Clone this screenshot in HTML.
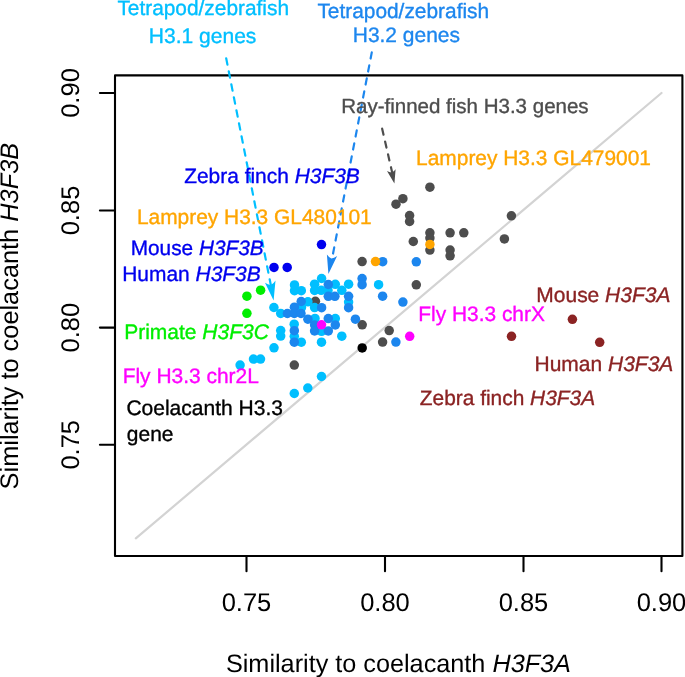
<!DOCTYPE html><html><head><meta charset="utf-8"><title>Similarity plot</title><style>html,body{margin:0;padding:0;background:#fff;overflow:hidden;}svg{display:block;will-change:transform;}text{font-family:"Liberation Sans",sans-serif;text-rendering:geometricPrecision;}</style></head><body>
<svg width="685" height="677" viewBox="0 0 685 677">
<rect width="685" height="677" fill="#fff"/>
<line x1="135.8" y1="538.4" x2="661.5" y2="93.0" stroke="#d3d3d3" stroke-width="2.2" stroke-linecap="round"/>
<circle cx="429.9" cy="187.2" r="4.75" fill="#4d4d4d"/>
<circle cx="402.9" cy="198.7" r="4.75" fill="#4d4d4d"/>
<circle cx="396.0" cy="204.2" r="4.75" fill="#4d4d4d"/>
<circle cx="409.6" cy="215.5" r="4.75" fill="#4d4d4d"/>
<circle cx="409.6" cy="221.5" r="4.75" fill="#4d4d4d"/>
<circle cx="429.9" cy="232.8" r="4.75" fill="#4d4d4d"/>
<circle cx="429.9" cy="238.1" r="4.75" fill="#4d4d4d"/>
<circle cx="429.9" cy="250.1" r="4.75" fill="#4d4d4d"/>
<circle cx="413.3" cy="241.5" r="4.75" fill="#4d4d4d"/>
<circle cx="450.1" cy="232.8" r="4.75" fill="#4d4d4d"/>
<circle cx="463.8" cy="232.8" r="4.75" fill="#4d4d4d"/>
<circle cx="450.1" cy="250.1" r="4.75" fill="#4d4d4d"/>
<circle cx="450.1" cy="255.8" r="4.75" fill="#4d4d4d"/>
<circle cx="416.3" cy="284.8" r="4.75" fill="#4d4d4d"/>
<circle cx="362.1" cy="261.6" r="4.75" fill="#4d4d4d"/>
<circle cx="362.2" cy="324.8" r="4.75" fill="#4d4d4d"/>
<circle cx="389.2" cy="330.6" r="4.75" fill="#4d4d4d"/>
<circle cx="382.6" cy="342.1" r="4.75" fill="#4d4d4d"/>
<circle cx="315.4" cy="301.3" r="4.75" fill="#4d4d4d"/>
<circle cx="294.3" cy="365.1" r="4.75" fill="#4d4d4d"/>
<circle cx="511.4" cy="215.8" r="4.75" fill="#4d4d4d"/>
<circle cx="504.4" cy="238.9" r="4.75" fill="#4d4d4d"/>
<circle cx="321.6" cy="278.5" r="4.75" fill="#00bfff"/>
<circle cx="294.5" cy="284.9" r="4.75" fill="#00bfff"/>
<circle cx="314.6" cy="284.2" r="4.75" fill="#00bfff"/>
<circle cx="335.3" cy="284.3" r="4.75" fill="#00bfff"/>
<circle cx="348.6" cy="284.2" r="4.75" fill="#00bfff"/>
<circle cx="378.6" cy="284.7" r="4.75" fill="#00bfff"/>
<circle cx="294.5" cy="290.7" r="4.75" fill="#00bfff"/>
<circle cx="301.3" cy="290.7" r="4.75" fill="#00bfff"/>
<circle cx="314.6" cy="290.4" r="4.75" fill="#00bfff"/>
<circle cx="321.2" cy="290.3" r="4.75" fill="#00bfff"/>
<circle cx="328.0" cy="290.4" r="4.75" fill="#00bfff"/>
<circle cx="341.8" cy="290.3" r="4.75" fill="#00bfff"/>
<circle cx="307.9" cy="301.8" r="4.75" fill="#00bfff"/>
<circle cx="348.6" cy="302.0" r="4.75" fill="#00bfff"/>
<circle cx="273.9" cy="307.5" r="4.75" fill="#00bfff"/>
<circle cx="301.5" cy="307.6" r="4.75" fill="#00bfff"/>
<circle cx="314.6" cy="307.6" r="4.75" fill="#00bfff"/>
<circle cx="280.7" cy="313.4" r="4.75" fill="#00bfff"/>
<circle cx="315.0" cy="318.4" r="4.75" fill="#00bfff"/>
<circle cx="335.3" cy="318.5" r="4.75" fill="#00bfff"/>
<circle cx="294.2" cy="324.2" r="4.75" fill="#00bfff"/>
<circle cx="280.7" cy="330.5" r="4.75" fill="#00bfff"/>
<circle cx="321.5" cy="331.3" r="4.75" fill="#00bfff"/>
<circle cx="280.7" cy="336.1" r="4.75" fill="#00bfff"/>
<circle cx="294.3" cy="336.3" r="4.75" fill="#00bfff"/>
<circle cx="341.8" cy="336.2" r="4.75" fill="#00bfff"/>
<circle cx="301.3" cy="342.2" r="4.75" fill="#00bfff"/>
<circle cx="321.5" cy="342.2" r="4.75" fill="#00bfff"/>
<circle cx="274.0" cy="347.8" r="4.75" fill="#00bfff"/>
<circle cx="253.5" cy="359.1" r="4.75" fill="#00bfff"/>
<circle cx="260.5" cy="359.1" r="4.75" fill="#00bfff"/>
<circle cx="240.1" cy="365.1" r="4.75" fill="#00bfff"/>
<circle cx="321.5" cy="376.5" r="4.75" fill="#00bfff"/>
<circle cx="307.8" cy="388.0" r="4.75" fill="#00bfff"/>
<circle cx="294.3" cy="393.5" r="4.75" fill="#00bfff"/>
<circle cx="382.7" cy="261.7" r="4.75" fill="#1c86ee"/>
<circle cx="416.3" cy="261.8" r="4.75" fill="#1c86ee"/>
<circle cx="362.1" cy="278.5" r="4.75" fill="#1c86ee"/>
<circle cx="362.1" cy="284.7" r="4.75" fill="#1c86ee"/>
<circle cx="328.3" cy="284.5" r="4.75" fill="#1c86ee"/>
<circle cx="328.3" cy="296.3" r="4.75" fill="#1c86ee"/>
<circle cx="334.9" cy="296.3" r="4.75" fill="#1c86ee"/>
<circle cx="348.6" cy="296.3" r="4.75" fill="#1c86ee"/>
<circle cx="382.6" cy="296.2" r="4.75" fill="#1c86ee"/>
<circle cx="301.2" cy="301.5" r="4.75" fill="#1c86ee"/>
<circle cx="402.9" cy="302.1" r="4.75" fill="#1c86ee"/>
<circle cx="294.4" cy="307.2" r="4.75" fill="#1c86ee"/>
<circle cx="321.6" cy="307.7" r="4.75" fill="#1c86ee"/>
<circle cx="348.6" cy="307.7" r="4.75" fill="#1c86ee"/>
<circle cx="287.4" cy="313.5" r="4.75" fill="#1c86ee"/>
<circle cx="294.3" cy="313.5" r="4.75" fill="#1c86ee"/>
<circle cx="301.0" cy="313.5" r="4.75" fill="#1c86ee"/>
<circle cx="307.9" cy="319.2" r="4.75" fill="#1c86ee"/>
<circle cx="328.3" cy="318.6" r="4.75" fill="#1c86ee"/>
<circle cx="355.4" cy="319.2" r="4.75" fill="#1c86ee"/>
<circle cx="314.6" cy="324.9" r="4.75" fill="#1c86ee"/>
<circle cx="335.3" cy="324.9" r="4.75" fill="#1c86ee"/>
<circle cx="294.3" cy="330.7" r="4.75" fill="#1c86ee"/>
<circle cx="314.6" cy="330.9" r="4.75" fill="#1c86ee"/>
<circle cx="328.3" cy="330.9" r="4.75" fill="#1c86ee"/>
<circle cx="294.3" cy="342.2" r="4.75" fill="#1c86ee"/>
<circle cx="395.9" cy="342.1" r="4.75" fill="#1c86ee"/>
<circle cx="429.9" cy="244.4" r="4.75" fill="#ffa500"/>
<circle cx="375.5" cy="261.6" r="4.75" fill="#ffa500"/>
<circle cx="409.7" cy="336.3" r="4.75" fill="#ff00ff"/>
<circle cx="321.5" cy="324.8" r="4.75" fill="#ff00ff"/>
<circle cx="572.4" cy="319.3" r="4.75" fill="#8b2323"/>
<circle cx="599.7" cy="342.3" r="4.75" fill="#8b2323"/>
<circle cx="511.5" cy="336.3" r="4.75" fill="#8b2323"/>
<circle cx="321.5" cy="244.6" r="4.75" fill="#0000ee"/>
<circle cx="274.0" cy="267.4" r="4.75" fill="#0000ee"/>
<circle cx="287.2" cy="267.4" r="4.75" fill="#0000ee"/>
<circle cx="260.6" cy="290.2" r="4.75" fill="#00ee00"/>
<circle cx="246.9" cy="296.2" r="4.75" fill="#00ee00"/>
<circle cx="246.9" cy="313.3" r="4.75" fill="#00ee00"/>
<circle cx="362.2" cy="347.9" r="4.75" fill="#000000"/>
<rect x="115" y="75.4" width="567.4" height="480.6" fill="none" stroke="#000" stroke-width="2.1" stroke-linejoin="round"/><line x1="246.5" y1="556" x2="246.5" y2="571.2" stroke="#000" stroke-width="2.1" stroke-linecap="round"/><line x1="385.0" y1="556" x2="385.0" y2="571.2" stroke="#000" stroke-width="2.1" stroke-linecap="round"/><line x1="523.5" y1="556" x2="523.5" y2="571.2" stroke="#000" stroke-width="2.1" stroke-linecap="round"/><line x1="661.5" y1="556" x2="661.5" y2="571.2" stroke="#000" stroke-width="2.1" stroke-linecap="round"/><line x1="99.9" y1="93.0" x2="115" y2="93.0" stroke="#000" stroke-width="2.1" stroke-linecap="round"/><line x1="99.9" y1="210.5" x2="115" y2="210.5" stroke="#000" stroke-width="2.1" stroke-linecap="round"/><line x1="99.9" y1="327.6" x2="115" y2="327.6" stroke="#000" stroke-width="2.1" stroke-linecap="round"/><line x1="99.9" y1="444.8" x2="115" y2="444.8" stroke="#000" stroke-width="2.1" stroke-linecap="round"/>
<line x1="226.19" y1="58.28" x2="270.80" y2="285.00" stroke="#00bfff" stroke-width="2.2" stroke-dasharray="6.46 6.79" stroke-linecap="round"/>
<path d="M273.60,300.40 L265.00,282.80 Q268.13,285.05 270.85,284.95 Q273.38,283.85 275.50,280.40 Z" fill="#00bfff"/>
<line x1="371.79" y1="52.38" x2="332.10" y2="258.50" stroke="#1c86ee" stroke-width="2.2" stroke-dasharray="6.25 6.99" stroke-linecap="round"/>
<path d="M328.40,274.10 L326.90,254.50 Q328.94,257.57 331.40,258.44 Q334.04,258.37 337.10,256.10 Z" fill="#1c86ee"/>
<line x1="382.15" y1="128.67" x2="392.30" y2="173.10" stroke="#4d4d4d" stroke-width="2.2" stroke-dasharray="6.21 6.97" stroke-linecap="round"/>
<path d="M394.40,183.40 L387.00,171.00 Q389.61,172.54 391.84,172.44 Q393.91,171.64 395.60,169.20 Z" fill="#4d4d4d"/>
<text x="117.39" y="15.1" font-size="20.87" fill="#00bfff" stroke="#00bfff" stroke-width="0.35" stroke-linejoin="round">Tetrapod/zebrafish</text>
<text x="148.85" y="42.7" font-size="21.02" fill="#00bfff" stroke="#00bfff" stroke-width="0.35" stroke-linejoin="round">H3.1 genes</text>
<text x="317.39" y="17.7" font-size="20.88" fill="#1c86ee" stroke="#1c86ee" stroke-width="0.35" stroke-linejoin="round">Tetrapod/zebrafish</text>
<text x="352.75" y="41.9" font-size="20.96" fill="#1c86ee" stroke="#1c86ee" stroke-width="0.35" stroke-linejoin="round">H3.2 genes</text>
<text x="341.17" y="112.8" font-size="20.53" fill="#4d4d4d" stroke="#4d4d4d" stroke-width="0.35" stroke-linejoin="round">Ray-finned fish H3.3 genes</text>
<text x="416.05" y="165.0" font-size="20.93" fill="#ffa500" stroke="#ffa500" stroke-width="0.35" stroke-linejoin="round">Lamprey H3.3 GL479001</text>
<text x="184.20" y="183.0" font-size="20.93" fill="#0000ee" stroke="#0000ee" stroke-width="0.35" stroke-linejoin="round">Zebra finch <tspan font-style="italic">H3F3B</tspan></text>
<text x="136.95" y="224.3" font-size="20.92" fill="#ffa500" stroke="#ffa500" stroke-width="0.35" stroke-linejoin="round">Lamprey H3.3 GL480101</text>
<text x="130.76" y="254.7" font-size="20.79" fill="#0000ee" stroke="#0000ee" stroke-width="0.35" stroke-linejoin="round">Mouse <tspan font-style="italic">H3F3B</tspan></text>
<text x="122.25" y="281.0" font-size="20.94" fill="#0000ee" stroke="#0000ee" stroke-width="0.35" stroke-linejoin="round">Human <tspan font-style="italic">H3F3B</tspan></text>
<text x="124.15" y="338.5" font-size="21.01" fill="#00ee00" stroke="#00ee00" stroke-width="0.35" stroke-linejoin="round">Primate <tspan font-style="italic">H3F3C</tspan></text>
<text x="418.25" y="320.8" font-size="20.91" fill="#ff00ff" stroke="#ff00ff" stroke-width="0.35" stroke-linejoin="round">Fly H3.3 chrX</text>
<text x="536.35" y="301.8" font-size="20.97" fill="#8b2323" stroke="#8b2323" stroke-width="0.35" stroke-linejoin="round">Mouse <tspan font-style="italic">H3F3A</tspan></text>
<text x="534.55" y="370.5" font-size="20.99" fill="#8b2323" stroke="#8b2323" stroke-width="0.35" stroke-linejoin="round">Human <tspan font-style="italic">H3F3A</tspan></text>
<text x="419.80" y="405.2" font-size="20.90" fill="#8b2323" stroke="#8b2323" stroke-width="0.35" stroke-linejoin="round">Zebra finch <tspan font-style="italic">H3F3A</tspan></text>
<text x="122.65" y="383.1" font-size="20.96" fill="#ff00ff" stroke="#ff00ff" stroke-width="0.35" stroke-linejoin="round">Fly H3.3 chr2L</text>
<text x="126.39" y="414.5" font-size="21.03" fill="#000000" stroke="#000000" stroke-width="0.35" stroke-linejoin="round">Coelacanth H3.3</text>
<text x="126.85" y="441.1" font-size="20.94" fill="#000000" stroke="#000000" stroke-width="0.35" stroke-linejoin="round">gene</text>
<text x="225.93" y="671.5" font-size="25.24" fill="#000000">Similarity to coelacanth <tspan font-style="italic">H3F3A</tspan></text>
<text x="246.5" y="611.2" font-size="25.5" text-anchor="middle" fill="#000">0.75</text>
<text x="385.0" y="611.2" font-size="25.5" text-anchor="middle" fill="#000">0.80</text>
<text x="523.5" y="611.2" font-size="25.5" text-anchor="middle" fill="#000">0.85</text>
<text x="661.5" y="611.2" font-size="25.5" text-anchor="middle" fill="#000">0.90</text>
<text transform="translate(79.1,93.0) rotate(-90)" font-size="25.5" text-anchor="middle" fill="#000">0.90</text>
<text transform="translate(79.1,210.5) rotate(-90)" font-size="25.5" text-anchor="middle" fill="#000">0.85</text>
<text transform="translate(79.1,327.6) rotate(-90)" font-size="25.5" text-anchor="middle" fill="#000">0.80</text>
<text transform="translate(79.1,444.8) rotate(-90)" font-size="25.5" text-anchor="middle" fill="#000">0.75</text>
<text transform="translate(17.8,489.38) rotate(-90)" font-size="25.35" fill="#000">Similarity to coelacanth <tspan font-style="italic">H3F3B</tspan></text>
</svg></body></html>
